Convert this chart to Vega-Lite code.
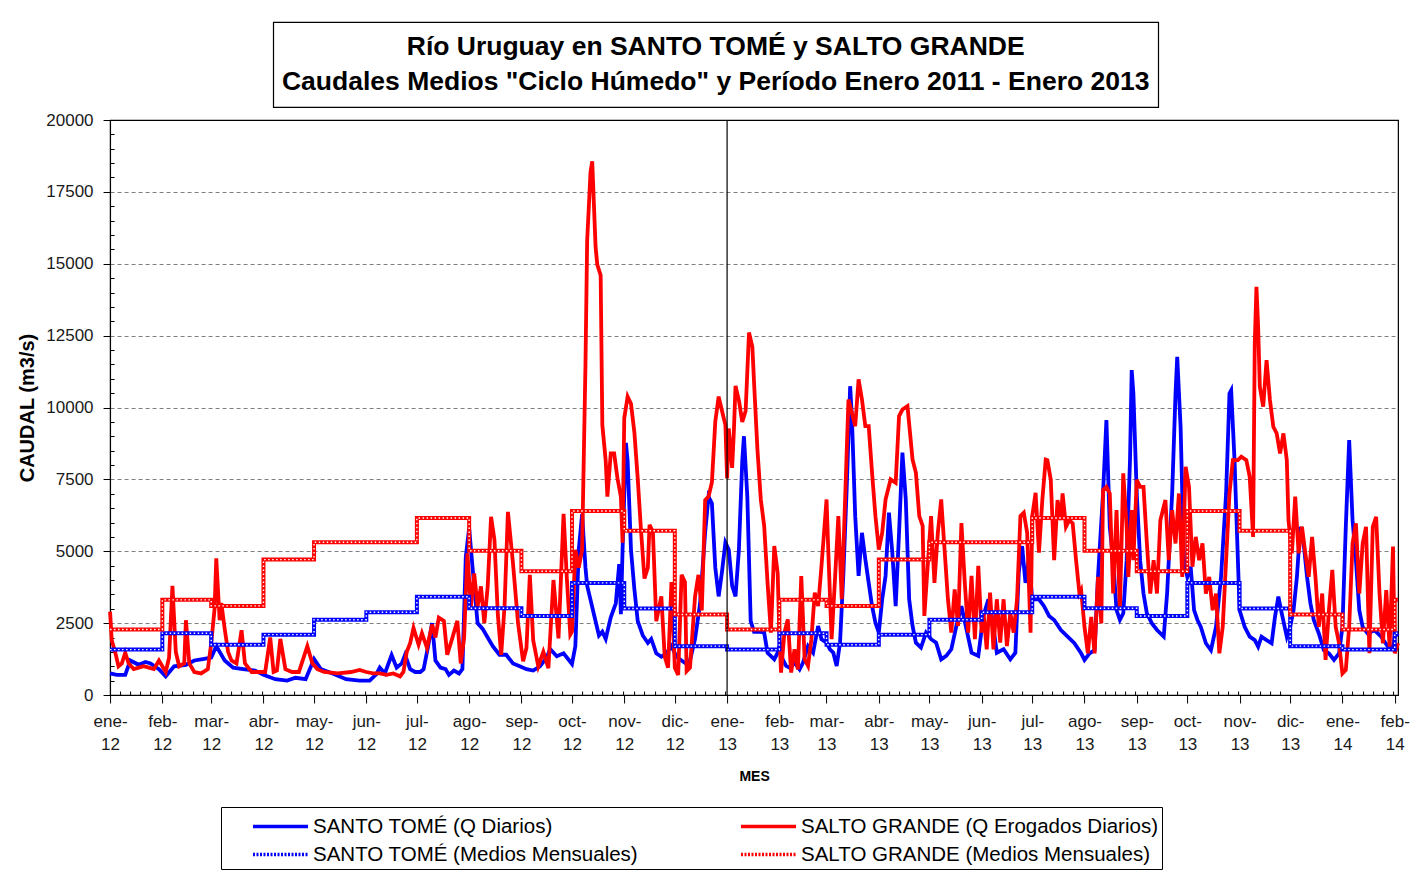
{
  "$schema": "https://vega.github.io/schema/vega-lite/v6.json",
  "background": "white",
  "padding": {"left": 17, "top": 21, "right": 4, "bottom": 0},
  "config": {
    "font": "Liberation Sans",
    "view": {"stroke": "black", "strokeWidth": 1.2},
    "axis": {"labelFont": "Liberation Sans", "titleFont": "Liberation Sans", "domainColor": "black", "tickColor": "black", "labelColor": "#1a1a1a", "titleColor": "black"}
  },
  "datasets": {
    "st": [
      {"f":"2012-01-01","q":750},{"f":"2012-01-05","q":700},{"f":"2012-01-10","q":700},{"f":"2012-01-13","q":1200},{"f":"2012-01-18","q":1050},{"f":"2012-01-22","q":1150},{"f":"2012-01-25","q":1100},{"f":"2012-01-30","q":900},
      {"f":"2012-02-03","q":650},{"f":"2012-02-08","q":1000},{"f":"2012-02-15","q":1050},{"f":"2012-02-20","q":1200},{"f":"2012-02-25","q":1250},
      {"f":"2012-03-01","q":1300},{"f":"2012-03-04","q":1700},{"f":"2012-03-09","q":1200},{"f":"2012-03-14","q":950},{"f":"2012-03-20","q":900},{"f":"2012-03-27","q":850},
      {"f":"2012-04-01","q":700},{"f":"2012-04-08","q":550},{"f":"2012-04-15","q":500},{"f":"2012-04-20","q":600},{"f":"2012-04-26","q":550},
      {"f":"2012-05-01","q":1250},{"f":"2012-05-05","q":900},{"f":"2012-05-12","q":750},{"f":"2012-05-20","q":550},{"f":"2012-05-28","q":500},
      {"f":"2012-06-03","q":500},{"f":"2012-06-07","q":730},{"f":"2012-06-09","q":950},{"f":"2012-06-12","q":750},{"f":"2012-06-16","q":1390},{"f":"2012-06-19","q":950},{"f":"2012-06-22","q":1100},{"f":"2012-06-24","q":1400},{"f":"2012-06-27","q":900},{"f":"2012-06-30","q":800},
      {"f":"2012-07-03","q":800},{"f":"2012-07-05","q":900},{"f":"2012-07-08","q":1800},{"f":"2012-07-10","q":2500},{"f":"2012-07-12","q":1200},{"f":"2012-07-15","q":950},{"f":"2012-07-18","q":900},{"f":"2012-07-20","q":700},{"f":"2012-07-23","q":850},{"f":"2012-07-26","q":750},{"f":"2012-07-28","q":900},{"f":"2012-07-30","q":4800},
      {"f":"2012-08-01","q":5800},{"f":"2012-08-03","q":4450},{"f":"2012-08-06","q":2500},{"f":"2012-08-09","q":2300},{"f":"2012-08-12","q":2000},{"f":"2012-08-15","q":1700},{"f":"2012-08-19","q":1400},{"f":"2012-08-23","q":1400},{"f":"2012-08-27","q":1100},{"f":"2012-08-31","q":1000},
      {"f":"2012-09-04","q":900},{"f":"2012-09-08","q":850},{"f":"2012-09-12","q":1000},{"f":"2012-09-16","q":1300},{"f":"2012-09-18","q":1600},{"f":"2012-09-22","q":1350},{"f":"2012-09-26","q":1450},
      {"f":"2012-10-01","q":1080},{"f":"2012-10-03","q":1700},{"f":"2012-10-05","q":5050},{"f":"2012-10-07","q":6290},{"f":"2012-10-09","q":4430},{"f":"2012-10-10","q":3800},{"f":"2012-10-12","q":3310},{"f":"2012-10-14","q":2810},{"f":"2012-10-17","q":2070},{"f":"2012-10-19","q":2200},{"f":"2012-10-21","q":1950},{"f":"2012-10-24","q":2700},{"f":"2012-10-27","q":3190},{"f":"2012-10-29","q":4550},{"f":"2012-10-30","q":2810},{"f":"2012-10-31","q":5050},
      {"f":"2012-11-02","q":8770},{"f":"2012-11-03","q":8150},{"f":"2012-11-05","q":5050},{"f":"2012-11-07","q":3680},{"f":"2012-11-09","q":2570},{"f":"2012-11-12","q":2070},{"f":"2012-11-15","q":1810},{"f":"2012-11-17","q":1950},{"f":"2012-11-20","q":1450},{"f":"2012-11-23","q":1330},{"f":"2012-11-26","q":1450},{"f":"2012-11-29","q":1700},
      {"f":"2012-12-02","q":1330},{"f":"2012-12-05","q":1200},{"f":"2012-12-08","q":1080},{"f":"2012-12-10","q":1200},{"f":"2012-12-13","q":1950},{"f":"2012-12-16","q":3190},{"f":"2012-12-19","q":5670},{"f":"2012-12-21","q":6900},{"f":"2012-12-23","q":6660},{"f":"2012-12-25","q":4430},{"f":"2012-12-27","q":3430},{"f":"2012-12-29","q":4300},{"f":"2012-12-31","q":5300},
      {"f":"2013-01-02","q":5050},{"f":"2013-01-04","q":3800},{"f":"2013-01-06","q":3430},{"f":"2013-01-08","q":5050},{"f":"2013-01-10","q":8150},{"f":"2013-01-11","q":9000},{"f":"2013-01-13","q":6900},{"f":"2013-01-15","q":2570},{"f":"2013-01-17","q":2200},{"f":"2013-01-20","q":2200},{"f":"2013-01-23","q":2170},{"f":"2013-01-25","q":1470},{"f":"2013-01-29","q":1240},{"f":"2013-01-31","q":1470},
      {"f":"2013-02-01","q":1700},{"f":"2013-02-03","q":1240},{"f":"2013-02-05","q":1010},{"f":"2013-02-07","q":950},{"f":"2013-02-10","q":1120},{"f":"2013-02-13","q":890},{"f":"2013-02-15","q":1120},{"f":"2013-02-18","q":1700},{"f":"2013-02-21","q":1470},{"f":"2013-02-24","q":2400},{"f":"2013-02-26","q":1940},
      {"f":"2013-03-01","q":1820},{"f":"2013-03-03","q":1590},{"f":"2013-03-05","q":1470},{"f":"2013-03-07","q":1010},{"f":"2013-03-09","q":1820},{"f":"2013-03-11","q":4250},{"f":"2013-03-13","q":7270},{"f":"2013-03-15","q":10740},{"f":"2013-03-16","q":9700},{"f":"2013-03-18","q":6220},{"f":"2013-03-20","q":4140},{"f":"2013-03-22","q":5640},{"f":"2013-03-24","q":4720},{"f":"2013-03-26","q":3900},{"f":"2013-03-28","q":3090},{"f":"2013-03-30","q":2510},
      {"f":"2013-04-01","q":2170},{"f":"2013-04-03","q":3330},{"f":"2013-04-05","q":4140},{"f":"2013-04-07","q":6340},{"f":"2013-04-09","q":4950},{"f":"2013-04-11","q":3090},{"f":"2013-04-13","q":5640},{"f":"2013-04-15","q":8430},{"f":"2013-04-17","q":6800},{"f":"2013-04-19","q":3330},{"f":"2013-04-21","q":2400},{"f":"2013-04-23","q":1820},{"f":"2013-04-26","q":1650},{"f":"2013-04-29","q":2170},
      {"f":"2013-05-02","q":1940},{"f":"2013-05-05","q":1820},{"f":"2013-05-08","q":1240},{"f":"2013-05-11","q":1360},{"f":"2013-05-14","q":1590},{"f":"2013-05-17","q":2400},{"f":"2013-05-20","q":3090},{"f":"2013-05-23","q":2280},{"f":"2013-05-26","q":1470},{"f":"2013-05-30","q":1360},
      {"f":"2013-06-02","q":2750},{"f":"2013-06-05","q":3330},{"f":"2013-06-07","q":2750},{"f":"2013-06-10","q":1470},{"f":"2013-06-14","q":1590},{"f":"2013-06-18","q":1240},{"f":"2013-06-21","q":1470},{"f":"2013-06-23","q":4250},{"f":"2013-06-25","q":5180},{"f":"2013-06-27","q":3900},{"f":"2013-06-29","q":4720},
      {"f":"2013-07-01","q":3330},{"f":"2013-07-05","q":3330},{"f":"2013-07-08","q":3090},{"f":"2013-07-11","q":2750},{"f":"2013-07-14","q":2610},{"f":"2013-07-18","q":2260},{"f":"2013-07-22","q":2030},{"f":"2013-07-26","q":1800},{"f":"2013-07-30","q":1450},
      {"f":"2013-08-01","q":1220},{"f":"2013-08-04","q":1450},{"f":"2013-08-07","q":1560},{"f":"2013-08-09","q":4110},{"f":"2013-08-12","q":7010},{"f":"2013-08-14","q":9560},{"f":"2013-08-16","q":5850},{"f":"2013-08-18","q":4690},{"f":"2013-08-20","q":2950},{"f":"2013-08-22","q":2610},{"f":"2013-08-24","q":2840},{"f":"2013-08-26","q":4690},{"f":"2013-08-28","q":8170},{"f":"2013-08-29","q":11300},{"f":"2013-08-30","q":10490},
      {"f":"2013-09-01","q":7010},{"f":"2013-09-03","q":4690},{"f":"2013-09-05","q":3530},{"f":"2013-09-07","q":2840},{"f":"2013-09-10","q":2490},{"f":"2013-09-13","q":2260},{"f":"2013-09-17","q":2030},{"f":"2013-09-19","q":3530},{"f":"2013-09-22","q":7010},{"f":"2013-09-24","q":10490},{"f":"2013-09-25","q":11760},{"f":"2013-09-27","q":9330},{"f":"2013-09-29","q":4690},
      {"f":"2013-10-01","q":4110},{"f":"2013-10-03","q":4460},{"f":"2013-10-05","q":2950},{"f":"2013-10-07","q":2610},{"f":"2013-10-09","q":2370},{"f":"2013-10-12","q":1800},{"f":"2013-10-15","q":1560},{"f":"2013-10-18","q":2370},{"f":"2013-10-21","q":4110},{"f":"2013-10-24","q":7010},{"f":"2013-10-26","q":10490},{"f":"2013-10-27","q":10600},{"f":"2013-10-29","q":8170},{"f":"2013-10-31","q":4690},
      {"f":"2013-11-01","q":2950},{"f":"2013-11-04","q":2370},{"f":"2013-11-07","q":2030},{"f":"2013-11-10","q":1910},{"f":"2013-11-12","q":1680},{"f":"2013-11-14","q":2030},{"f":"2013-11-17","q":1910},{"f":"2013-11-20","q":1800},{"f":"2013-11-22","q":2720},{"f":"2013-11-24","q":3420},{"f":"2013-11-26","q":2840},{"f":"2013-11-29","q":2030},
      {"f":"2013-12-01","q":2370},{"f":"2013-12-03","q":2950},{"f":"2013-12-05","q":4110},{"f":"2013-12-07","q":5850},{"f":"2013-12-09","q":5270},{"f":"2013-12-11","q":4110},{"f":"2013-12-13","q":3190},{"f":"2013-12-15","q":2610},{"f":"2013-12-18","q":2140},{"f":"2013-12-21","q":1560},{"f":"2013-12-24","q":1450},{"f":"2013-12-27","q":1220},{"f":"2013-12-30","q":1450},
      {"f":"2014-01-01","q":2370},{"f":"2014-01-03","q":5850},{"f":"2014-01-05","q":8870},{"f":"2014-01-07","q":6080},{"f":"2014-01-09","q":4690},{"f":"2014-01-11","q":2950},{"f":"2014-01-13","q":2370},{"f":"2014-01-16","q":2140},{"f":"2014-01-20","q":2260},{"f":"2014-01-24","q":2030},{"f":"2014-01-28","q":1680},{"f":"2014-01-31","q":1680},{"f":"2014-02-01","q":2030},{"f":"2014-02-03","q":2140}
    ],
    "sg": [
      {"f":"2012-01-01","q":2900},{"f":"2012-01-02","q":1900},{"f":"2012-01-04","q":1500},{"f":"2012-01-06","q":1000},{"f":"2012-01-08","q":1100},{"f":"2012-01-10","q":1470},{"f":"2012-01-12","q":1100},{"f":"2012-01-15","q":900},{"f":"2012-01-18","q":950},{"f":"2012-01-21","q":1000},{"f":"2012-01-24","q":950},{"f":"2012-01-27","q":900},{"f":"2012-01-30","q":1200},
      {"f":"2012-02-03","q":800},{"f":"2012-02-05","q":1300},{"f":"2012-02-07","q":3800},{"f":"2012-02-09","q":1500},{"f":"2012-02-11","q":1000},{"f":"2012-02-14","q":1100},{"f":"2012-02-15","q":2600},{"f":"2012-02-17","q":1100},{"f":"2012-02-20","q":800},{"f":"2012-02-24","q":750},{"f":"2012-02-28","q":900},
      {"f":"2012-03-01","q":1800},{"f":"2012-03-03","q":3000},{"f":"2012-03-04","q":4750},{"f":"2012-03-06","q":2600},{"f":"2012-03-07","q":3200},{"f":"2012-03-09","q":2300},{"f":"2012-03-11","q":1500},{"f":"2012-03-13","q":1200},{"f":"2012-03-16","q":1100},{"f":"2012-03-19","q":2250},{"f":"2012-03-21","q":1100},{"f":"2012-03-25","q":800},{"f":"2012-03-29","q":800},
      {"f":"2012-04-02","q":800},{"f":"2012-04-05","q":2000},{"f":"2012-04-07","q":800},{"f":"2012-04-09","q":850},{"f":"2012-04-11","q":1950},{"f":"2012-04-14","q":900},{"f":"2012-04-18","q":800},{"f":"2012-04-22","q":800},{"f":"2012-04-27","q":1700},{"f":"2012-04-30","q":1100},
      {"f":"2012-05-03","q":900},{"f":"2012-05-07","q":800},{"f":"2012-05-15","q":750},{"f":"2012-05-23","q":800},{"f":"2012-05-28","q":870},
      {"f":"2012-06-01","q":800},{"f":"2012-06-05","q":750},{"f":"2012-06-09","q":750},{"f":"2012-06-13","q":700},{"f":"2012-06-17","q":750},{"f":"2012-06-21","q":650},{"f":"2012-06-23","q":800},{"f":"2012-06-25","q":1500},{"f":"2012-06-27","q":1800},{"f":"2012-06-29","q":2330},
      {"f":"2012-07-02","q":1750},{"f":"2012-07-04","q":2150},{"f":"2012-07-07","q":1640},{"f":"2012-07-10","q":2450},{"f":"2012-07-12","q":2000},{"f":"2012-07-14","q":2690},{"f":"2012-07-17","q":2580},{"f":"2012-07-19","q":1400},{"f":"2012-07-22","q":1980},{"f":"2012-07-25","q":2580},{"f":"2012-07-27","q":1100},{"f":"2012-07-29","q":1980},{"f":"2012-07-31","q":4930},
      {"f":"2012-08-02","q":3070},{"f":"2012-08-04","q":4230},{"f":"2012-08-06","q":3070},{"f":"2012-08-08","q":3780},{"f":"2012-08-10","q":2500},{"f":"2012-08-12","q":3780},{"f":"2012-08-14","q":6200},{"f":"2012-08-16","q":5400},{"f":"2012-08-18","q":2800},{"f":"2012-08-20","q":1400},{"f":"2012-08-22","q":3100},{"f":"2012-08-24","q":6370},{"f":"2012-08-27","q":4580},{"f":"2012-08-30","q":2500},
      {"f":"2012-09-02","q":1170},{"f":"2012-09-04","q":1640},{"f":"2012-09-06","q":4180},{"f":"2012-09-08","q":1900},{"f":"2012-09-11","q":1000},{"f":"2012-09-14","q":1500},{"f":"2012-09-17","q":930},{"f":"2012-09-20","q":4000},{"f":"2012-09-23","q":1970},{"f":"2012-09-26","q":6300},{"f":"2012-09-28","q":4000},{"f":"2012-09-30","q":2100},
      {"f":"2012-10-01","q":2200},{"f":"2012-10-03","q":5050},{"f":"2012-10-05","q":4430},{"f":"2012-10-07","q":5050},{"f":"2012-10-09","q":11500},{"f":"2012-10-10","q":15800},{"f":"2012-10-12","q":18190},{"f":"2012-10-13","q":18560},{"f":"2012-10-15","q":15590},{"f":"2012-10-16","q":14970},{"f":"2012-10-18","q":14600},{"f":"2012-10-19","q":9390},{"f":"2012-10-21","q":8150},{"f":"2012-10-22","q":6900},{"f":"2012-10-24","q":8400},{"f":"2012-10-26","q":8400},{"f":"2012-10-28","q":7530},{"f":"2012-10-30","q":6900},{"f":"2012-10-31","q":5300},
      {"f":"2012-11-01","q":9630},{"f":"2012-11-03","q":10380},{"f":"2012-11-05","q":10130},{"f":"2012-11-07","q":9140},{"f":"2012-11-09","q":7530},{"f":"2012-11-11","q":5670},{"f":"2012-11-13","q":4050},{"f":"2012-11-15","q":4430},{"f":"2012-11-16","q":5920},{"f":"2012-11-18","q":5670},{"f":"2012-11-20","q":2570},{"f":"2012-11-23","q":3430},{"f":"2012-11-25","q":1330},{"f":"2012-11-27","q":950},{"f":"2012-11-29","q":3930},
      {"f":"2012-12-01","q":950},{"f":"2012-12-03","q":700},{"f":"2012-12-05","q":4180},{"f":"2012-12-07","q":3930},{"f":"2012-12-08","q":830},{"f":"2012-12-10","q":950},{"f":"2012-12-13","q":3430},{"f":"2012-12-15","q":4180},{"f":"2012-12-17","q":2940},{"f":"2012-12-19","q":6780},{"f":"2012-12-21","q":6900},{"f":"2012-12-23","q":7400},{"f":"2012-12-25","q":9510},{"f":"2012-12-27","q":10380},{"f":"2012-12-29","q":9880},{"f":"2012-12-31","q":9390},
      {"f":"2013-01-01","q":7530},{"f":"2013-01-02","q":9270},{"f":"2013-01-04","q":7900},{"f":"2013-01-05","q":9140},{"f":"2013-01-06","q":10750},{"f":"2013-01-08","q":10250},{"f":"2013-01-10","q":9500},{"f":"2013-01-12","q":9880},{"f":"2013-01-14","q":12610},{"f":"2013-01-16","q":12100},{"f":"2013-01-17","q":10860},{"f":"2013-01-19","q":8540},{"f":"2013-01-21","q":6800},{"f":"2013-01-23","q":5880},{"f":"2013-01-25","q":3900},{"f":"2013-01-27","q":2170},{"f":"2013-01-29","q":5180},{"f":"2013-01-31","q":4250},
      {"f":"2013-02-01","q":2170},{"f":"2013-02-02","q":780},{"f":"2013-02-04","q":2170},{"f":"2013-02-06","q":2630},{"f":"2013-02-08","q":780},{"f":"2013-02-10","q":1590},{"f":"2013-02-12","q":890},{"f":"2013-02-14","q":4140},{"f":"2013-02-16","q":1240},{"f":"2013-02-18","q":1010},{"f":"2013-02-20","q":1940},{"f":"2013-02-22","q":3560},{"f":"2013-02-24","q":3090},{"f":"2013-02-26","q":4490},
      {"f":"2013-03-01","q":6800},{"f":"2013-03-02","q":5060},{"f":"2013-03-04","q":1940},{"f":"2013-03-06","q":4020},{"f":"2013-03-08","q":6220},{"f":"2013-03-10","q":3330},{"f":"2013-03-12","q":6800},{"f":"2013-03-14","q":10280},{"f":"2013-03-16","q":9820},{"f":"2013-03-18","q":9350},{"f":"2013-03-20","q":10980},{"f":"2013-03-22","q":10280},{"f":"2013-03-24","q":9350},{"f":"2013-03-26","q":9350},{"f":"2013-03-28","q":7730},{"f":"2013-03-30","q":6220},
      {"f":"2013-04-01","q":5060},{"f":"2013-04-03","q":5640},{"f":"2013-04-05","q":6800},{"f":"2013-04-08","q":7500},{"f":"2013-04-11","q":7380},{"f":"2013-04-13","q":9700},{"f":"2013-04-15","q":9930},{"f":"2013-04-18","q":10050},{"f":"2013-04-21","q":8190},{"f":"2013-04-23","q":7730},{"f":"2013-04-25","q":6220},{"f":"2013-04-27","q":5880},{"f":"2013-04-28","q":2750},{"f":"2013-04-30","q":4490},
      {"f":"2013-05-02","q":6220},{"f":"2013-05-04","q":3900},{"f":"2013-05-06","q":5640},{"f":"2013-05-08","q":6800},{"f":"2013-05-10","q":5060},{"f":"2013-05-12","q":3330},{"f":"2013-05-14","q":2170},{"f":"2013-05-16","q":3670},{"f":"2013-05-18","q":2400},{"f":"2013-05-20","q":5980},{"f":"2013-05-22","q":3900},{"f":"2013-05-24","q":2170},{"f":"2013-05-26","q":4140},{"f":"2013-05-28","q":1940},{"f":"2013-05-30","q":4490},
      {"f":"2013-06-01","q":2170},{"f":"2013-06-02","q":2940},{"f":"2013-06-04","q":1590},{"f":"2013-06-06","q":3560},{"f":"2013-06-08","q":1590},{"f":"2013-06-10","q":3330},{"f":"2013-06-12","q":1820},{"f":"2013-06-14","q":3330},{"f":"2013-06-16","q":1700},{"f":"2013-06-18","q":2860},{"f":"2013-06-20","q":2170},{"f":"2013-06-22","q":3330},{"f":"2013-06-24","q":6220},{"f":"2013-06-26","q":6340},{"f":"2013-06-28","q":5640},{"f":"2013-06-30","q":2170},
      {"f":"2013-07-01","q":6220},{"f":"2013-07-03","q":7030},{"f":"2013-07-05","q":4950},{"f":"2013-07-07","q":6800},{"f":"2013-07-09","q":8190},{"f":"2013-07-10","q":8170},{"f":"2013-07-12","q":7480},{"f":"2013-07-14","q":4690},{"f":"2013-07-16","q":6780},{"f":"2013-07-18","q":6080},{"f":"2013-07-19","q":7010},{"f":"2013-07-21","q":5850},{"f":"2013-07-23","q":6080},{"f":"2013-07-25","q":5970},{"f":"2013-07-27","q":4690},{"f":"2013-07-29","q":3530},{"f":"2013-07-30","q":3650},
      {"f":"2013-08-01","q":2370},{"f":"2013-08-03","q":1450},{"f":"2013-08-05","q":2720},{"f":"2013-08-07","q":1450},{"f":"2013-08-09","q":4110},{"f":"2013-08-11","q":2490},{"f":"2013-08-12","q":7130},{"f":"2013-08-14","q":7240},{"f":"2013-08-16","q":7010},{"f":"2013-08-18","q":3530},{"f":"2013-08-20","q":6430},{"f":"2013-08-22","q":2950},{"f":"2013-08-24","q":7710},{"f":"2013-08-26","q":5850},{"f":"2013-08-27","q":4110},{"f":"2013-08-29","q":6430},{"f":"2013-08-30","q":4690},
      {"f":"2013-09-01","q":7480},{"f":"2013-09-03","q":7240},{"f":"2013-09-05","q":7240},{"f":"2013-09-07","q":5270},{"f":"2013-09-09","q":3530},{"f":"2013-09-11","q":4690},{"f":"2013-09-13","q":3530},{"f":"2013-09-15","q":6080},{"f":"2013-09-18","q":6780},{"f":"2013-09-20","q":4690},{"f":"2013-09-22","q":6430},{"f":"2013-09-24","q":5270},{"f":"2013-09-26","q":7010},{"f":"2013-09-28","q":4110},{"f":"2013-09-30","q":7940},
      {"f":"2013-10-02","q":7240},{"f":"2013-10-04","q":4460},{"f":"2013-10-06","q":5500},{"f":"2013-10-08","q":4690},{"f":"2013-10-10","q":5270},{"f":"2013-10-12","q":3530},{"f":"2013-10-14","q":4110},{"f":"2013-10-16","q":2950},{"f":"2013-10-18","q":3530},{"f":"2013-10-20","q":1450},{"f":"2013-10-22","q":2370},{"f":"2013-10-24","q":4690},{"f":"2013-10-26","q":7010},{"f":"2013-10-28","q":8170},{"f":"2013-10-31","q":8170},
      {"f":"2013-11-02","q":8290},{"f":"2013-11-05","q":8170},{"f":"2013-11-07","q":7590},{"f":"2013-11-09","q":5500},{"f":"2013-11-10","q":12230},{"f":"2013-11-11","q":14200},{"f":"2013-11-12","q":12810},{"f":"2013-11-13","q":10720},{"f":"2013-11-15","q":10030},{"f":"2013-11-17","q":11650},{"f":"2013-11-19","q":10260},{"f":"2013-11-21","q":9330},{"f":"2013-11-23","q":9100},{"f":"2013-11-25","q":8400},{"f":"2013-11-27","q":9100},{"f":"2013-11-29","q":8170},{"f":"2013-11-30","q":6080},
      {"f":"2013-12-02","q":4930},{"f":"2013-12-04","q":6900},{"f":"2013-12-06","q":4930},{"f":"2013-12-08","q":5850},{"f":"2013-12-10","q":4930},{"f":"2013-12-12","q":4110},{"f":"2013-12-14","q":5500},{"f":"2013-12-16","q":4110},{"f":"2013-12-18","q":2370},{"f":"2013-12-20","q":3530},{"f":"2013-12-22","q":1220},{"f":"2013-12-24","q":2950},{"f":"2013-12-26","q":4350},{"f":"2013-12-28","q":2370},{"f":"2013-12-30","q":1800},
      {"f":"2014-01-01","q":750},{"f":"2014-01-03","q":870},{"f":"2014-01-05","q":2370},{"f":"2014-01-07","q":5270},{"f":"2014-01-09","q":5970},{"f":"2014-01-11","q":3530},{"f":"2014-01-13","q":5270},{"f":"2014-01-15","q":5850},{"f":"2014-01-17","q":1450},{"f":"2014-01-19","q":5850},{"f":"2014-01-21","q":6200},{"f":"2014-01-23","q":3530},{"f":"2014-01-25","q":1800},{"f":"2014-01-27","q":3650},{"f":"2014-01-29","q":1680},{"f":"2014-01-31","q":5160},{"f":"2014-02-01","q":1450},{"f":"2014-02-03","q":1800}
    ],
    "stm": [
      {"f":"2012-01-01","q":1580},{"f":"2012-02-01","q":2150},{"f":"2012-03-01","q":1750},{"f":"2012-04-01","q":2100},{"f":"2012-05-01","q":2620},{"f":"2012-06-01","q":2880},{"f":"2012-07-01","q":3420},{"f":"2012-08-01","q":3020},{"f":"2012-09-01","q":2750},{"f":"2012-10-01","q":3900},{"f":"2012-11-01","q":3010},{"f":"2012-12-01","q":1700},
      {"f":"2013-01-01","q":1580},{"f":"2013-02-01","q":2150},{"f":"2013-03-01","q":1750},{"f":"2013-04-01","q":2100},{"f":"2013-05-01","q":2620},{"f":"2013-06-01","q":2880},{"f":"2013-07-01","q":3420},{"f":"2013-08-01","q":3020},{"f":"2013-09-01","q":2750},{"f":"2013-10-01","q":3900},{"f":"2013-11-01","q":3010},{"f":"2013-12-01","q":1700},
      {"f":"2014-01-01","q":1580},{"f":"2014-02-01","q":2150},{"f":"2014-02-03","q":2150}
    ],
    "sgm": [
      {"f":"2012-01-01","q":2280},{"f":"2012-02-01","q":3310},{"f":"2012-03-01","q":3100},{"f":"2012-04-01","q":4710},{"f":"2012-05-01","q":5315},{"f":"2012-06-01","q":5315},{"f":"2012-07-01","q":6155},{"f":"2012-08-01","q":5020},{"f":"2012-09-01","q":4305},{"f":"2012-10-01","q":6400},{"f":"2012-11-01","q":5715},{"f":"2012-12-01","q":2800},
      {"f":"2013-01-01","q":2280},{"f":"2013-02-01","q":3310},{"f":"2013-03-01","q":3100},{"f":"2013-04-01","q":4710},{"f":"2013-05-01","q":5315},{"f":"2013-06-01","q":5315},{"f":"2013-07-01","q":6155},{"f":"2013-08-01","q":5020},{"f":"2013-09-01","q":4305},{"f":"2013-10-01","q":6400},{"f":"2013-11-01","q":5715},{"f":"2013-12-01","q":2800},
      {"f":"2014-01-01","q":2280},{"f":"2014-02-01","q":3310},{"f":"2014-02-03","q":3310}
    ]
  },
  "resolve": {"scale": {"x": "independent", "y": "independent"}},
  "center": true,
  "spacing": 2,
  "vconcat": [
    {
      "width": 885,
      "height": 85,
      "data": {"values": [
        {"n": 1, "t": "Río Uruguay en SANTO TOMÉ y SALTO GRANDE"},
        {"n": 2, "t": "Caudales Medios \"Ciclo Húmedo\" y Período Enero 2011 - Enero 2013"}
      ]},
      "mark": {"type": "text", "font": "Liberation Sans", "fontWeight": "bold", "fontSize": 26.5, "color": "black", "baseline": "middle", "align": "center"},
      "encoding": {
        "y": {"field": "n", "type": "ordinal", "scale": {"type": "point", "padding": 0.714},
              "axis": {"orient": "right", "labels": false, "ticks": false, "title": null, "domain": true, "domainOpacity": 0, "offset": 88}},
        "text": {"field": "t", "type": "nominal"}
      }
    },
    {
      "width": 1288,
      "height": 575,
      "encoding": {
        "x": {
          "field": "f", "type": "temporal",
          "scale": {"type": "utc", "domain": [{"year": 2012, "month": 1, "date": 1, "utc": true}, {"year": 2014, "month": 2, "date": 3, "utc": true}]},
          "axis": {
            "title": "MES", "titleFontSize": 14, "titleFontWeight": "bold", "titlePadding": 17,
            "tickCount": {"interval": "day", "step": 6},
            "labelExpr": "utcdate(datum.value) == 1 ? [['ene','feb','mar','abr','may','jun','jul','ago','sep','oct','nov','dic'][utcmonth(datum.value)] + '-', utcFormat(datum.value, '%y')] : ''",
            "labelFontSize": 17, "labelLineHeight": 23, "labelBaseline": "top", "labelPadding": 10,
            "labelOverlap": false, "labelFlush": false, "labelAlign": "center",
            "tickSize": {"condition": {"test": "utcdate(datum.value) == 1", "value": 8}, "value": -4},
            "grid": false
          }
        },
        "y": {
          "field": "q", "type": "quantitative",
          "scale": {"domain": [0, 20000], "nice": false},
          "axis": {
            "title": "CAUDAL (m3/s)", "titleFontSize": 20, "titleFontWeight": "bold", "titlePadding": 8,
            "tickCount": 40, "format": "d",
            "labelExpr": "datum.value % 2500 === 0 ? datum.label : ''",
            "labelFontSize": 17, "labelPadding": 10, "labelOverlap": false,
            "tickSize": {"condition": {"test": "datum.value % 2500 === 0", "value": 7}, "value": -4},
            "grid": true, "gridColor": "#808080", "gridDash": [4, 3],
            "gridOpacity": {"condition": {"test": "datum.value % 2500 === 0 && datum.value > 0 && datum.value < 20000", "value": 1}, "value": 0}
          }
        }
      },
      "layer": [
        {
          "data": {"name": "st"},
          "mark": {"type": "line", "strokeWidth": 3.8},
          "encoding": {
            "color": {
              "datum": "SANTO TOMÉ (Q Diarios)",
              "scale": {
                "domain": ["SANTO TOMÉ (Q Diarios)", "SALTO GRANDE (Q Erogados Diarios)", "SANTO TOMÉ (Medios Mensuales)", "SALTO GRANDE (Medios Mensuales)"],
                "range": ["#0000FF", "#FF0000", "#0000FF", "#FF0000"]
              },
              "legend": {
                "title": null, "orient": "none", "legendX": 111, "legendY": 785,
                "direction": "horizontal", "columns": 2, "columnPadding": 74, "rowPadding": 2,
                "symbolType": "M-2,0L2,0", "symbolSize": 756, "symbolStrokeWidth": 3.5, "symbolOffset": 40,
                "labelFontSize": 20.5, "labelFont": "Liberation Sans", "labelColor": "black", "labelLimit": 700, "labelOffset": 17,
                "strokeColor": "black", "fillColor": "white", "padding": 4,
                "encode": {"symbols": {"update": {"strokeDash": {"signal": "indexof(datum.value, 'Mensuales') >= 0 ? [2, 1.5] : [1, 0]"}}}}
              }
            }
          }
        },
        {
          "data": {"name": "sg"},
          "mark": {"type": "line", "strokeWidth": 3.8},
          "encoding": {"color": {"datum": "SALTO GRANDE (Q Erogados Diarios)"}}
        },
        {
          "data": {"name": "stm"},
          "mark": {"type": "line", "strokeWidth": 4, "interpolate": "step-after"},
          "encoding": {"color": {"datum": "SANTO TOMÉ (Medios Mensuales)"}}
        },
        {
          "data": {"name": "stm"},
          "mark": {"type": "line", "strokeWidth": 1.4, "interpolate": "step-after", "color": "white", "strokeDash": [1.5, 2.5]},
          "encoding": {}
        },
        {
          "data": {"name": "sgm"},
          "mark": {"type": "line", "strokeWidth": 4, "interpolate": "step-after"},
          "encoding": {"color": {"datum": "SALTO GRANDE (Medios Mensuales)"}}
        },
        {
          "data": {"name": "sgm"},
          "mark": {"type": "line", "strokeWidth": 1.4, "interpolate": "step-after", "color": "white", "strokeDash": [1.5, 2.5]},
          "encoding": {}
        },
        {
          "data": {"values": [{"f": "2013-01-01"}]},
          "mark": {"type": "rule", "color": "black", "strokeWidth": 1.2},
          "encoding": {"y": null}
        }
      ]
    }
  ]
}
